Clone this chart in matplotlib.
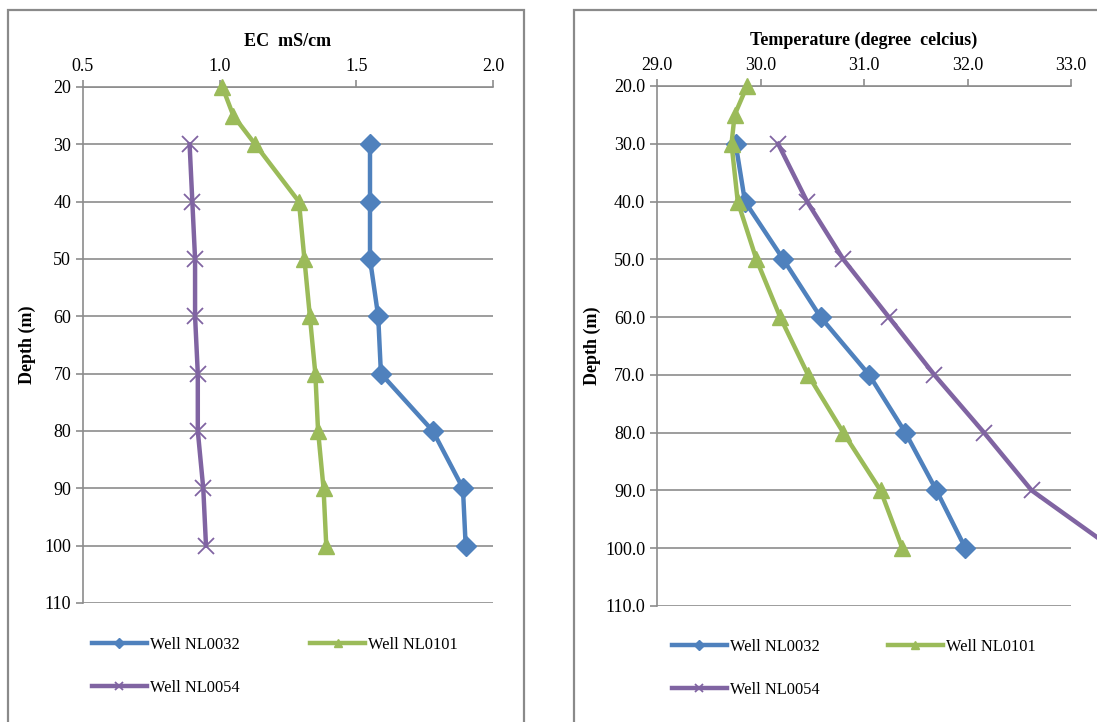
import matplotlib
matplotlib.use("Agg")
import matplotlib.pyplot as plt
from matplotlib.patches import Rectangle

plt.rcParams['font.family'] = ['Liberation Serif', 'DejaVu Serif']

# depths (m)
depth_main = [30, 40, 50, 60, 70, 80, 90, 100]
depth_0101 = [20, 25, 30, 40, 50, 60, 70, 80, 90, 100]

# EC (mS/cm)
ec_0032 = [1.55, 1.55, 1.55, 1.58, 1.59, 1.78, 1.89, 1.90]
ec_0101 = [1.01, 1.05, 1.13, 1.29, 1.31, 1.33, 1.35, 1.36, 1.38, 1.39]
ec_0054 = [0.89, 0.90, 0.91, 0.91, 0.92, 0.92, 0.94, 0.95]

# temperature (degree celcius)
t_0032 = [29.76, 29.85, 30.22, 30.58, 31.05, 31.40, 31.70, 31.98]
t_0101 = [29.87, 29.75, 29.72, 29.78, 29.96, 30.19, 30.46, 30.80, 31.16, 31.37]
t_0054 = [30.17, 30.45, 30.80, 31.24, 31.68, 32.16, 32.62, 33.40]

labels = ['Well NL0032', 'Well NL0101', 'Well NL0054']
blue, green, purple = '#4F81BD', '#9BBB59', '#8064A2'
grid_c = '#8C8C8C'

fig = plt.figure(figsize=(10.97, 7.22), dpi=100)

# chart frames
for x0, w in [(8, 516), (574, 560)]:
    fig.add_artist(Rectangle((x0 / 1097, -0.1), w / 1097, 1.1 - 10 / 722,
                             transform=fig.transFigure, fill=False,
                             edgecolor='#8A8A8A', linewidth=1.6))

ax1 = fig.add_axes([83 / 1097, 1 - 603 / 722, 410 / 1097, 516 / 722])
ax2 = fig.add_axes([657 / 1097, 1 - 606 / 722, 414 / 1097, 520 / 722])


def style(ax, xlim, xticks, fmt_x, fmt_y, xlabel):
    ax.set_ylim(110, 20)
    ax.set_xlim(*xlim)
    ax.set_xticks(xticks)
    ax.set_xticklabels([fmt_x.format(v) for v in xticks])
    yt = list(range(20, 111, 10))
    ax.set_yticks(yt)
    ax.set_yticklabels([fmt_y.format(v) for v in yt])
    ax.xaxis.tick_top()
    ax.xaxis.set_label_position('top')
    ax.set_xlabel(xlabel, fontsize=13, fontweight='bold', labelpad=9)
    ax.set_ylabel('Depth (m)', fontsize=13, fontweight='bold')
    for s in ['right', 'bottom']:
        ax.spines[s].set_visible(False)
    for s in ['left', 'top']:
        ax.spines[s].set_color(grid_c)
        ax.spines[s].set_linewidth(1.2)
    ax.tick_params(colors=grid_c, labelcolor='black', labelsize=13,
                   length=5, width=1.2, direction='out')
    ax.grid(axis='y', color=grid_c, linewidth=1.2)
    ax.set_axisbelow(True)


style(ax1, (0.5, 2.0), [0.5, 1.0, 1.5, 2.0], '{:.1f}', '{:d}', 'EC  mS/cm')
style(ax2, (29.0, 33.0), [29.0, 30.0, 31.0, 32.0, 33.0], '{:.1f}', '{:.1f}',
      'Temperature (degree  celcius)')
ax1.yaxis.set_label_coords(-0.115, 0.5)
ax2.yaxis.set_label_coords(-0.135, 0.5)

for ax, a, b, c in [(ax1, ec_0032, ec_0101, ec_0054),
                    (ax2, t_0032, t_0101, t_0054)]:
    l1, = ax.plot(a, depth_main, color=blue, lw=3.2, marker='D', ms=10.5,
                  label=labels[0], clip_on=False)
    l2, = ax.plot(b, depth_0101, color=green, lw=3.2, marker='^', ms=12,
                  label=labels[1], clip_on=False)
    l3, = ax.plot(c, depth_main, color=purple, lw=3.2, marker='x', ms=11,
                  mew=1.3, label=labels[2], clip_on=False)
    l1.set_zorder(3)
    l2.set_zorder(4)
    l3.set_zorder(3)

leg_kw = dict(loc='upper left', ncol=2, frameon=False, fontsize=11.8,
              handlelength=3.35, handletextpad=0.2,
              labelspacing=1.65, markerscale=0.5)
order = [0, 2, 1]
h, l = ax1.get_legend_handles_labels()
ax1.legend([h[i] for i in order], [l[i] for i in order],
           bbox_to_anchor=(77 / 1097, 1 - 622 / 722), columnspacing=4.3,
           bbox_transform=fig.transFigure, **leg_kw)
h, l = ax2.get_legend_handles_labels()
ax2.legend([h[i] for i in order], [l[i] for i in order],
           bbox_to_anchor=(657 / 1097, 1 - 624 / 722), columnspacing=4.15,
           bbox_transform=fig.transFigure, **leg_kw)

fig.savefig('out.png', dpi=100)
